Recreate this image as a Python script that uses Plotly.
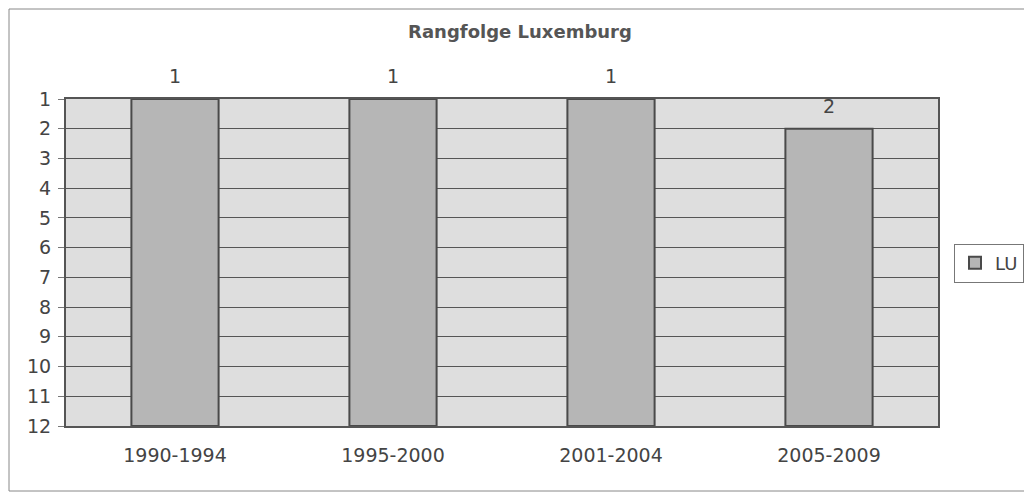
import plotly.graph_objects as go

periods = ["1990-1994", "1995-2000", "2001-2004", "2005-2009"]
ranks_lu = [1, 1, 1, 2]
rank_ticks = list(range(1, 13))
axis_bottom = 12

FW, FH = 1024, 489  # page body has 8px default margin
L, R, T, B = 58, 94, 91, 71
PW, PH = FW - L - R, FH - T - B
FONT = "DejaVu Sans, Liberation Sans, Arial"

fig = go.Figure()
fig.add_trace(go.Bar(
    x=periods,
    y=[r - axis_bottom for r in ranks_lu],
    base=axis_bottom,
    name="LU",
    marker=dict(color="#b6b6b6", line=dict(color="#4a4a4a", width=2)),
    width=0.4,
))

for p, r in zip(periods, ranks_lu):
    fig.add_annotation(x=p, y=r, text=str(r), showarrow=False, yanchor="bottom",
                       yshift=10, font=dict(family=FONT, size=19, color="#444444"))

fig.update_layout(
    width=FW, height=FH,
    margin=dict(l=L, r=R, t=T, b=B, autoexpand=False),
    paper_bgcolor="white",
    plot_bgcolor="#dedede",
    title=dict(text="<b>Rangfolge Luxemburg</b>", x=0.5, xanchor="center", y=1 - 24 / FH, yanchor="middle",
               font=dict(family=FONT, size=18, color="#555555")),
    font=dict(family=FONT, size=19, color="#444444"),
    showlegend=True,
    legend=dict(x=(946 - L) / PW, y=1 - (263 - 8 - T) / PH, xanchor="left", yanchor="middle",
                bordercolor="#777777", borderwidth=1, bgcolor="white",
                font=dict(size=18, color="#444444"),
                itemwidth=30, tracegroupgap=0),
    xaxis=dict(showgrid=False, ticks="", showline=True, linecolor="#555555", linewidth=2,
               mirror=True, tickfont=dict(size=19), ticklabelstandoff=11),
    yaxis=dict(range=[axis_bottom, 1], tickvals=rank_ticks, ticktext=[str(t) for t in rank_ticks],
               showgrid=True, gridcolor="#555555", gridwidth=1,
               showline=True, linecolor="#555555", linewidth=2, mirror=True,
               ticks="outside", ticklen=6, tickcolor="#777777",
               tickfont=dict(size=19), zeroline=False, ticklabelstandoff=3),
    shapes=[dict(type="rect", xref="paper", yref="paper",
                 x0=-(L - 1) / PW, x1=(1019 - L) / PW, y0=-(B - 6) / PH, y1=(T + PH - 1) / PH,
                 line=dict(color="#888888", width=1))],
)

fig.write_html("out.html")
